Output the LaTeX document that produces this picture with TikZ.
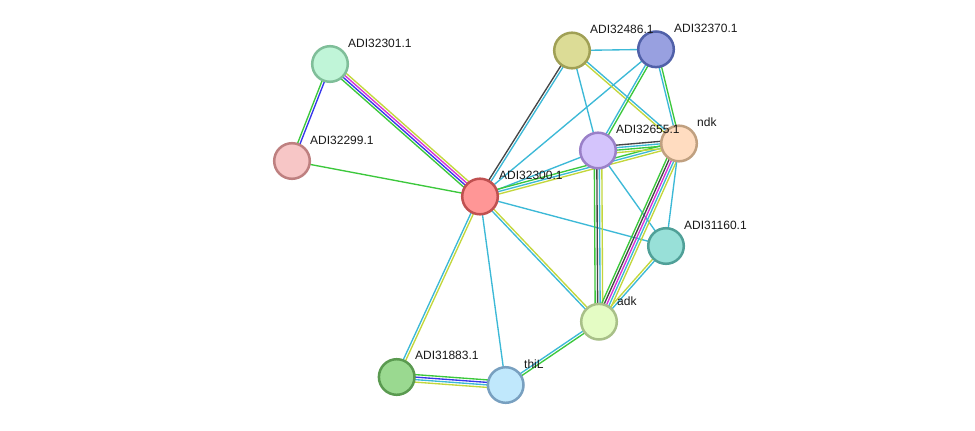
\documentclass[tikz,border=0pt]{standalone}
\usepackage{fontspec}
\setmainfont{Liberation Sans}
\usetikzlibrary{calc}
\pgfdeclarelayer{bg}
\pgfsetlayers{bg,main}
\definecolor{cgreen}{RGB}{60,200,60}
\definecolor{cblue}{RGB}{55,55,235}
\definecolor{cmag}{RGB}{215,50,215}
\definecolor{ccyan}{RGB}{60,185,215}
\definecolor{cyel}{RGB}{195,215,60}
\definecolor{cdark}{RGB}{70,70,70}
\tikzset{
  prot/.style={circle, minimum size=35.6pt, inner sep=0pt, line width=2.5pt},
  lbl/.style={anchor=west, font=\fontsize{12}{14}\selectfont, text=black!90, inner sep=0pt},
  ln/.style={line width=1.35pt}
}
\newcommand\sedge[4]{%
  \foreach \c [count=\i] in {#4} {%
    \pgfmathsetmacro\off{(\i-(#3+1)/2)*2.5}%
    \begin{pgfonlayer}{bg}
      \draw[ln,draw=\c] ($(#1.center)!\off pt!90:(#2.center)$) -- ($(#2.center)!\off pt!-90:(#1.center)$);
    \end{pgfonlayer}
  }%
}
\begin{document}
\begin{tikzpicture}[x=1pt,y=-1pt]
\begin{pgfonlayer}{bg}
\fill[white] (0,0) rectangle (975,431);
\end{pgfonlayer}
\useasboundingbox (0,0) rectangle (975,431);
% nodes
\node[prot, fill={rgb,255:red,192;green,245;blue,216}, draw={rgb,255:red,127;green,190;blue,153}] (n32301) at (330,64) {};
\node[prot, fill={rgb,255:red,247;green,198;blue,198}, draw={rgb,255:red,190;green,128;blue,128}] (n32299) at (292,161) {};
\node[prot, fill={rgb,255:red,255;green,150;blue,150}, draw={rgb,255:red,192;green,80;blue,80}] (n32300) at (480,196.5) {};
\node[prot, fill={rgb,255:red,220;green,220;blue,150}, draw={rgb,255:red,160;green,160;blue,85}] (n32486) at (572,50.5) {};
\node[prot, fill={rgb,255:red,152;green,160;blue,224}, draw={rgb,255:red,80;green,96;blue,168}] (n32370) at (656,49.3) {};
\node[prot, fill={rgb,255:red,212;green,196;blue,252}, draw={rgb,255:red,154;green,128;blue,200}] (n32655) at (598,150.5) {};
\node[prot, fill={rgb,255:red,255;green,220;blue,192}, draw={rgb,255:red,192;green,160;blue,128}] (ndk) at (679,143.5) {};
\node[prot, fill={rgb,255:red,152;green,224;blue,216}, draw={rgb,255:red,80;green,160;blue,152}] (n31160) at (666,246) {};
\node[prot, fill={rgb,255:red,228;green,252;blue,196}, draw={rgb,255:red,168;green,192;blue,136}] (nadk) at (599,321.7) {};
\node[prot, fill={rgb,255:red,154;green,217;blue,144}, draw={rgb,255:red,90;green,154;blue,80}] (n31883) at (396.7,377) {};
\node[prot, fill={rgb,255:red,192;green,232;blue,252}, draw={rgb,255:red,120;green,160;blue,192}] (nthiL) at (505.7,385) {};
% labels
\node[lbl] (l32301) at (348,43) {ADI32301.1};
\node[lbl] (l32299) at (310,140) {ADI32299.1};
\node[lbl] (l32300) at (499,175) {ADI32300.1};
\node[lbl] (l32486) at (590,29) {ADI32486.1};
\node[lbl] (l32370) at (674,28) {ADI32370.1};
\node[lbl] (l32655) at (616,129) {ADI32655.1};
\node[lbl] (lndk) at (697,122) {ndk};
\node[lbl] (l31160) at (684,225) {ADI31160.1};
\node[lbl] (ladk) at (617,301) {adk};
\node[lbl] (l31883) at (415,355) {ADI31883.1};
\node[lbl] (lthiL) at (524,364) {thiL};
% edges (first colour lies on the right-hand side of travel from first to second node)
\sedge{n32301}{n32299}{2}{cgreen,cblue}
\sedge{n32301}{n32300}{4}{cgreen,cblue,cmag,cyel}
\sedge{n32299}{n32300}{1}{cgreen}
\sedge{n32300}{n32486}{2}{ccyan,cdark}
\sedge{n32300}{n32370}{1}{ccyan}
\sedge{n32300}{n32655}{1}{ccyan}
\sedge{n32300}{ndk}{3}{cyel,ccyan,cgreen}
\sedge{n32300}{n31160}{1}{ccyan}
\sedge{n32300}{nadk}{2}{ccyan,cyel}
\sedge{n32300}{nthiL}{1}{ccyan}
\sedge{n32300}{n31883}{2}{ccyan,cyel}
\sedge{n31883}{nthiL}{4}{cyel,ccyan,cblue,cgreen}
\sedge{nthiL}{nadk}{2}{cgreen,ccyan}
\sedge{n32486}{n32370}{1}{ccyan}
\sedge{n32486}{n32655}{1}{ccyan}
\sedge{n32486}{ndk}{2}{cyel,ccyan}
\sedge{n32370}{n32655}{2}{ccyan,cgreen}
\sedge{n32370}{ndk}{2}{ccyan,cgreen}
\sedge{n32655}{ndk}{4}{cyel,cgreen,ccyan,cdark}
\sedge{n32655}{nadk}{4}{cgreen,cdark,ccyan,cyel}
\sedge{n32655}{n31160}{1}{ccyan}
\sedge{ndk}{nadk}{5}{cgreen,cdark,cmag,ccyan,cyel}
\sedge{ndk}{n31160}{1}{ccyan}
\sedge{n31160}{nadk}{2}{cyel,ccyan}
\end{tikzpicture}
\end{document}
